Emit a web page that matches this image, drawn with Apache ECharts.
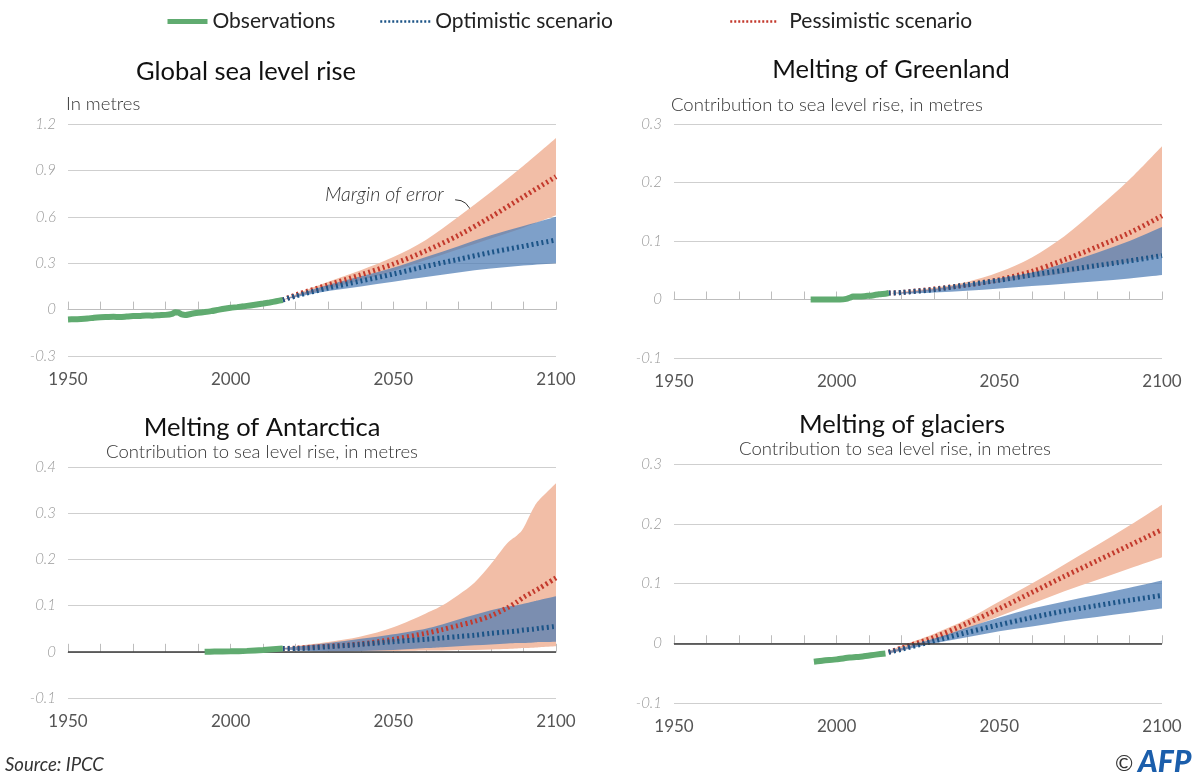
<!DOCTYPE html>
<html><head><meta charset="utf-8">
<script src="https://cdn.jsdelivr.net/npm/echarts@6/dist/echarts.min.js"></script>
<style>html,body{margin:0;padding:0;background:#fff}#c{width:1198px;height:775px}</style>
</head><body><div id="c"></div>
<script>
// ---------- DATA ----------
const projYears = [2016, 2020, 2030, 2040, 2050, 2060, 2070, 2080, 2090, 2100];

// Global sea level rise
const globalObsYears = [1950,1952,1954,1956,1958,1960,1962,1964,1966,1968,1970,1972,1974,1976,1978,1980,1982,1983,1984,1985,1986,1988,1990,1992,1994,1996,1998,2000,2002,2004,2006,2008,2010,2012,2014,2016];
const globalObs = [-0.064,-0.062,-0.061,-0.058,-0.052,-0.049,-0.048,-0.047,-0.048,-0.045,-0.042,-0.041,-0.038,-0.039,-0.036,-0.034,-0.027,-0.017,-0.020,-0.031,-0.035,-0.027,-0.021,-0.016,-0.010,-0.002,0.006,0.012,0.016,0.021,0.027,0.033,0.039,0.046,0.054,0.062];
const globalPessLow  = [0.062, 0.085, 0.135, 0.19, 0.25, 0.32, 0.39, 0.46, 0.53, 0.61];
const globalPessMid  = [0.062, 0.095, 0.16, 0.225, 0.295, 0.38, 0.48, 0.60, 0.73, 0.86];
const globalPessHigh = [0.062, 0.10, 0.18, 0.255, 0.34, 0.45, 0.60, 0.76, 0.93, 1.11];
const globalOptLow   = [0.062, 0.08, 0.12, 0.15, 0.18, 0.21, 0.24, 0.265, 0.285, 0.30];
const globalOptMid   = [0.062, 0.088, 0.14, 0.185, 0.23, 0.28, 0.325, 0.37, 0.41, 0.45];
const globalOptHigh  = [0.062, 0.092, 0.16, 0.215, 0.27, 0.34, 0.41, 0.48, 0.54, 0.60];

// Greenland
const greenObsYears = [1992,1995,1998,2001,2003,2004,2005,2007,2009,2011,2013,2015,2016];
const greenObs = [0,0,0,0,0.001,0.003,0.005,0.005,0.006,0.007,0.009,0.010,0.011];
const greenPessLow  = [0.011, 0.011, 0.016, 0.022, 0.029, 0.037, 0.045, 0.054, 0.064, 0.075];
const greenPessMid  = [0.011, 0.012, 0.018, 0.025, 0.034, 0.048, 0.068, 0.090, 0.114, 0.143];
const greenPessHigh = [0.011, 0.013, 0.020, 0.030, 0.047, 0.072, 0.108, 0.155, 0.205, 0.262];
const greenOptLow   = [0.011, 0.010, 0.012, 0.015, 0.019, 0.023, 0.027, 0.031, 0.036, 0.042];
const greenOptMid   = [0.011, 0.012, 0.017, 0.025, 0.033, 0.042, 0.050, 0.058, 0.066, 0.075];
const greenOptHigh  = [0.011, 0.012, 0.018, 0.027, 0.036, 0.046, 0.062, 0.080, 0.100, 0.124];

// Antarctica
const antObsYears = [1992,1995,2000,2005,2010,2014,2016];
const antObs = [0,0.0005,0.001,0.002,0.004,0.006,0.007];
const antYears = [2016,2020,2030,2040,2050,2060,2065,2070,2075,2080,2085,2088,2090,2093,2095,2100];
const antPessLow  = [0.006,0.004,0.002,0.002,0.002,0.003,0.003,0.004,0.004,0.005,0.006,0.007,0.008,0.009,0.010,0.012];
const antPessMid  = [0.007,0.008,0.012,0.017,0.027,0.040,0.048,0.057,0.066,0.078,0.095,0.108,0.118,0.130,0.138,0.160];
const antPessHigh = [0.008,0.012,0.021,0.033,0.053,0.083,0.100,0.123,0.150,0.190,0.235,0.252,0.268,0.310,0.330,0.365];
const antOptLow   = [0.006,0.003,0.001,0.002,0.004,0.008,0.010,0.012,0.014,0.016,0.018,0.019,0.019,0.020,0.021,0.022];
const antOptMid   = [0.007,0.007,0.011,0.016,0.022,0.027,0.030,0.033,0.036,0.040,0.043,0.045,0.047,0.049,0.051,0.055];
const antOptHigh  = [0.008,0.011,0.019,0.028,0.038,0.050,0.059,0.070,0.080,0.090,0.098,0.101,0.104,0.109,0.112,0.120];

// Glaciers
const glacObsYears = [1993,1996,2000,2004,2008,2012,2015];
const glacObs = [-0.031,-0.029,-0.027,-0.024,-0.022,-0.019,-0.017];
const glacPessLow  = [-0.017,-0.012,0.004,0.024,0.045,0.066,0.087,0.106,0.125,0.144];
const glacPessMid  = [-0.015,-0.008,0.010,0.033,0.058,0.085,0.112,0.138,0.164,0.190];
const glacPessHigh = [-0.013,-0.004,0.016,0.040,0.070,0.100,0.132,0.164,0.197,0.232];
const glacOptLow   = [-0.017,-0.012,0.000,0.010,0.020,0.028,0.037,0.044,0.051,0.058];
const glacOptMid   = [-0.015,-0.010,0.004,0.018,0.031,0.043,0.054,0.063,0.072,0.080];
const glacOptHigh  = [-0.013,-0.008,0.008,0.026,0.043,0.058,0.070,0.081,0.093,0.105];

// Axis ranges / ticks
const xMin = 1950, xMax = 2100, xStep = 10, xLabelStep = 50;
const yRanges = [
  {min:-0.3, max:1.2, interval:0.3},
  {min:-0.1, max:0.3, interval:0.1},
  {min:-0.1, max:0.4, interval:0.1},
  {min:-0.1, max:0.3, interval:0.1}
];
const titles = ['Global sea level rise','Melting of Greenland','Melting of Antarctica','Melting of glaciers'];
const subtitles = ['In metres','Contribution to sea level rise, in metres','Contribution to sea level rise, in metres','Contribution to sea level rise, in metres'];
const seriesNames = {obs:'Observations', opt:'Optimistic scenario', pess:'Pessimistic scenario'};

// ---------- STYLE ----------
const C = {
  green:'#60ab70', red:'#c3392c', blue:'#1c5487',
  salmon:'#f2bea7', blueBand:'rgba(76,124,180,0.72)',
  grid:'#cfcfcf', axis:'#bdbdbd'
};
const FONT = 'Lato, "Open Sans", sans-serif';

const grids = [
  {left:68, top:124, width:488, height:232},
  {left:674, top:124, width:488, height:234},
  {left:68, top:467, width:488, height:231},
  {left:674, top:464, width:488, height:239}
];

const zip = (xs, ys) => xs.map((x,i)=>[x, ys[i]]);
const zip3 = (xs, a, b) => xs.map((x,i)=>[x, a[i], b[i]]);

// smooth path through pixel points (Catmull-Rom -> cubic Bezier)
function smoothSeg(pts, start) {
  let d = start ? 'M' + pts[0][0] + ',' + pts[0][1] : 'L' + pts[0][0] + ',' + pts[0][1];
  for (let i = 0; i < pts.length - 1; i++) {
    const p0 = pts[i-1] || pts[i], p1 = pts[i], p2 = pts[i+1], p3 = pts[i+2] || pts[i+1];
    const c1 = [p1[0] + (p2[0]-p0[0])/6, p1[1] + (p2[1]-p0[1])/6];
    const c2 = [p2[0] - (p3[0]-p1[0])/6, p2[1] - (p3[1]-p1[1])/6];
    d += 'C' + c1[0] + ',' + c1[1] + ',' + c2[0] + ',' + c2[1] + ',' + p2[0] + ',' + p2[1];
  }
  return d;
}
function bandSeries(gi, xs, lo, hi, color, z) {
  return {
    type:'custom', coordinateSystem:'cartesian2d', xAxisIndex:gi, yAxisIndex:gi,
    silent:true, z:z, animation:false,
    data: zip3(xs, lo, hi),
    encode:{x:0, y:[1,2]},
    renderItem: function (params, api) {
      if (params.dataIndex !== 0) return null;
      const up = xs.map((x,i)=>api.coord([x, hi[i]]));
      const dn = xs.map((x,i)=>api.coord([x, lo[i]])).reverse();
      return {type:'path', shape:{pathData: smoothSeg(up, true) + smoothSeg(dn, false) + 'Z'},
              style:{fill:color, stroke:null}};
    }
  };
}

const panels = [
  {obsX:globalObsYears, obs:globalObs, px:projYears, pl:globalPessLow, pm:globalPessMid, ph:globalPessHigh, ol:globalOptLow, om:globalOptMid, oh:globalOptHigh, zero:false},
  {obsX:greenObsYears, obs:greenObs, px:projYears, pl:greenPessLow, pm:greenPessMid, ph:greenPessHigh, ol:greenOptLow, om:greenOptMid, oh:greenOptHigh, zero:false},
  {obsX:antObsYears, obs:antObs, px:antYears, pl:antPessLow, pm:antPessMid, ph:antPessHigh, ol:antOptLow, om:antOptMid, oh:antOptHigh, zero:true},
  {obsX:glacObsYears, obs:glacObs, px:projYears, pl:glacPessLow, pm:glacPessMid, ph:glacPessHigh, ol:glacOptLow, om:glacOptMid, oh:glacOptHigh, zero:true}
];

const xAxes = [], yAxes = [], series = [];
panels.forEach((p, gi) => {
  xAxes.push({
    type:'value', gridIndex:gi, min:xMin, max:xMax, interval:xStep,
    axisLine:{show:true, lineStyle:{color:C.axis, width:1}},
    axisTick:{show:true, inside:true, length:8, lineStyle:{color:C.axis}},
    splitLine:{show:false},
    axisLabel:{margin:15, color:'#555', fontSize:17, fontFamily:FONT,
      formatter: v => (v % xLabelStep === 0 ? String(v) : '')}
  });
  const r = yRanges[gi];
  yAxes.push({
    type:'value', gridIndex:gi, min:r.min, max:r.max, interval:r.interval,
    axisLine:{show:false}, axisTick:{show:false},
    splitLine:{show:true, lineStyle:{color:C.grid, width:1}},
    axisLabel:{margin:12, color:'#9a9a9a', fontSize:15, fontStyle:'italic', fontFamily:FONT, fontWeight:300,
      formatter: v => String(+v.toFixed(1))}
  });
  const common = {type:'line', xAxisIndex:gi, yAxisIndex:gi, symbol:'none', smooth:0.3, silent:true, animation:false};
  series.push(bandSeries(gi, p.px, p.pl, p.ph, C.salmon, 1));
  series.push(bandSeries(gi, p.px, p.ol, p.oh, C.blueBand, 2));
  series.push(Object.assign({}, common, {name:seriesNames.pess, data:zip(p.px, p.pm), lineStyle:{color:C.red, width:5, type:[2,3], cap:'butt'}, z:3}));
  series.push(Object.assign({}, common, {name:seriesNames.opt, data:zip(p.px, p.om), lineStyle:{color:C.blue, width:5, type:[2,3], cap:'butt'}, z:4}));
  const obsS = Object.assign({}, common, {name:seriesNames.obs, smooth:0.2, data:zip(p.obsX, p.obs), lineStyle:{color:C.green, width:6}, z:5});
  if (p.zero) {
    obsS.markLine = {silent:true, symbol:'none', label:{show:false}, animation:false,
      lineStyle:{color:'#3a3a3a', width:1.5, type:'solid'}, data:[{yAxis:0}]};
  }
  series.push(obsS);
});

function legendFor(name, left, w, pad, ls) {
  return {top:11, left:left, padding:0, itemWidth:w, itemHeight:14, selectedMode:false,
    textStyle:{fontSize:21, color:'#222', fontFamily:FONT, padding:[0,0,0,pad]},
    data:[{name:name, lineStyle:ls, itemStyle:{opacity:0}}]};
}
const legends = [
  legendFor(seriesNames.obs, 165, 40, 0, {width:5, color:C.green, type:'solid'}),
  legendFor(seriesNames.opt, 379, 50, 0, {width:2.5, color:C.blue, type:[2,2]}),
  legendFor(seriesNames.pess, 729, 46, 8, {width:2.5, color:C.red, type:[2,2]})
];

function txt(x, y, text, opt) {
  return {type:'text', x:x, y:y, silent:true, style:Object.assign({text:text, fill:'#111', font:'25.5px '+FONT, textAlign:'left', textVerticalAlign:'middle'}, opt||{})};
}
const SUB = '300 18.5px ' + FONT;
const graphics = [
  txt(246, 72, titles[0], {textAlign:'center'}),
  txt(891, 70, titles[1], {textAlign:'center'}),
  txt(262, 428, titles[2], {textAlign:'center'}),
  txt(902, 425, titles[3], {textAlign:'center'}),
  txt(66, 104, subtitles[0], {font:SUB, fill:'#333'}),
  txt(671, 105, subtitles[1], {font:SUB, fill:'#333'}),
  txt(262, 452, subtitles[2], {font:SUB, fill:'#333', textAlign:'center'}),
  txt(895, 449, subtitles[3], {font:SUB, fill:'#333', textAlign:'center'}),
  txt(5, 765, 'Source: IPCC', {font:'italic 18.5px '+FONT, fill:'#333'}),
  txt(1115, 764, '©', {font:'22px '+FONT, fill:'#333'}),
  txt(1138, 762, 'AFP', {font:'italic 900 30px '+FONT, fill:'#1b5eab'})
];

const chart = echarts.init(document.getElementById('c'));
chart.setOption({
  animation:false,
  backgroundColor:'#fff',
  legend:legends,
  grid:grids,
  xAxis:xAxes,
  yAxis:yAxes,
  series:series,
  graphic:graphics
});

// "Margin of error" annotation anchored in data coordinates of panel 1
const tPos = chart.convertToPixel({gridIndex:0}, [2029, 0.74]);
const a0 = chart.convertToPixel({gridIndex:0}, [2069, 0.71]);
const a1 = chart.convertToPixel({gridIndex:0}, [2074, 0.62]);
const ac = chart.convertToPixel({gridIndex:0}, [2073, 0.71]);
chart.setOption({graphic: graphics.concat([
  txt(tPos[0], tPos[1], 'Margin of error', {font:'italic 300 19.5px '+FONT, fill:'#333'}),
  {type:'bezierCurve', silent:true, shape:{x1:a0[0], y1:a0[1], cpx1:ac[0], cpy1:ac[1], x2:a1[0], y2:a1[1]},
   style:{stroke:'#333', lineWidth:1, fill:null}}
])});
</script>
</body></html>
